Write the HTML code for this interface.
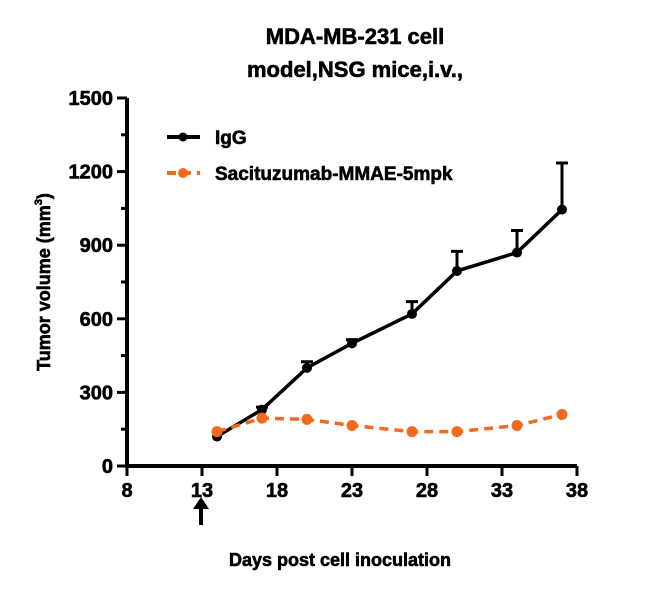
<!DOCTYPE html>
<html><head><meta charset="utf-8"><style>
body{margin:0;background:#fff;}
svg text{font-family:"Liberation Sans",Arial,sans-serif;font-weight:bold;fill:#000;stroke:#000;stroke-width:0.6;}
</style></head><body>
<svg id="chart" width="650" height="593" xmlns="http://www.w3.org/2000/svg">
<text x="355" y="44" font-size="22" text-anchor="middle">MDA-MB-231 cell</text>
<text x="355" y="77" font-size="22" text-anchor="middle">model,NSG mice,i.v.,</text>
<text transform="translate(50,282) rotate(-90)" font-size="18" text-anchor="middle">Tumor volume (mm<tspan font-size="11" dy="-8">3</tspan><tspan dy="8">)</tspan></text>
<text x="340" y="566" font-size="18" text-anchor="middle">Days post cell inoculation</text>
<g id="axes"></g>
<g id="series"></g>
<g>
<line x1="167" y1="137" x2="200" y2="137" stroke="#000" stroke-width="4"/>
<circle cx="183" cy="137" r="4.5" fill="#000"/>
<text x="215" y="144" font-size="19">IgG</text>
<line x1="167" y1="173" x2="200" y2="173" stroke="#f26b1d" stroke-width="4" stroke-dasharray="9,6"/>
<circle cx="183" cy="173" r="5" fill="#f26b1d"/>
<text x="215" y="180" font-size="19">Sacituzumab-MMAE-5mpk</text>
</g>
<g>
<line x1="201" y1="506" x2="201" y2="525" stroke="#000" stroke-width="4"/>
<polygon points="193,509 209,509 201,497" fill="#000"/>
</g>
</svg>
<script>
const days=[14,17,20,23,27,30,34,37];
const iggValues=[120,230,400,500,620,795,870,1045];
const iggErrors=[0,10,25,15,50,80,90,190];
const saciValues=[140,195,190,165,140,140,165,210];
const xTicks=[8,13,18,23,28,33,38];
const yTicks=[0,300,600,900,1200,1500];
const NS="http://www.w3.org/2000/svg";
function xs(d){return 127+(d-8)*15;}
function ys(v){return 466-v*368/1500;}
function mk(tag,attrs,parent){const e=document.createElementNS(NS,tag);for(const k in attrs)e.setAttribute(k,attrs[k]);parent.appendChild(e);return e;}
const ax=document.getElementById('axes');
let e=mk('line',{x1:127,y1:ys(1500),x2:127,y2:468,stroke:'#000','stroke-width':4},ax);


e=mk('line',{x1:125,y1:466,x2:xs(38),y2:466,stroke:'#000','stroke-width':4},ax);


yTicks.forEach(v=>{mk('line',{x1:117,y1:ys(v),x2:127,y2:ys(v),stroke:'#000','stroke-width':3},ax);
const t=mk('text',{x:113,y:ys(v)+7,'font-size':20,'text-anchor':'end'},ax);t.textContent=v;


if(v<1500)mk('line',{x1:121,y1:ys(v+150),x2:127,y2:ys(v+150),stroke:'#000','stroke-width':3},ax);});
xTicks.forEach(d=>{mk('line',{x1:xs(d),y1:466,x2:xs(d),y2:476,stroke:'#000','stroke-width':3},ax);
const t=mk('text',{x:xs(d),y:497,'font-size':20,'text-anchor':'middle'},ax);t.textContent=d;

});
const sg=document.getElementById('series');
days.forEach((d,i)=>{if(iggErrors[i]>0){const top=ys(iggValues[i]+iggErrors[i]);
mk('line',{x1:xs(d),y1:ys(iggValues[i]),x2:xs(d),y2:top,stroke:'#000','stroke-width':3},sg);
mk('line',{x1:xs(d)-6,y1:top,x2:xs(d)+6,y2:top,stroke:'#000','stroke-width':3},sg);}});
const pts=a=>days.map((d,i)=>xs(d)+','+ys(a[i])).join(' ');
e=mk('polyline',{points:pts(iggValues),fill:'none',stroke:'#000','stroke-width':3.5},sg);


days.forEach((d,i)=>{const c=mk('circle',{cx:xs(d),cy:ys(iggValues[i]),r:5,fill:'#000'},sg);

});
e=mk('polyline',{points:pts(saciValues),fill:'none',stroke:'#f26b1d','stroke-width':3.5,'stroke-dasharray':'9,6'},sg);


days.forEach((d,i)=>{const c=mk('circle',{cx:xs(d),cy:ys(saciValues[i]),r:5.5,fill:'#f26b1d'},sg);

});
</script>
</body></html>
